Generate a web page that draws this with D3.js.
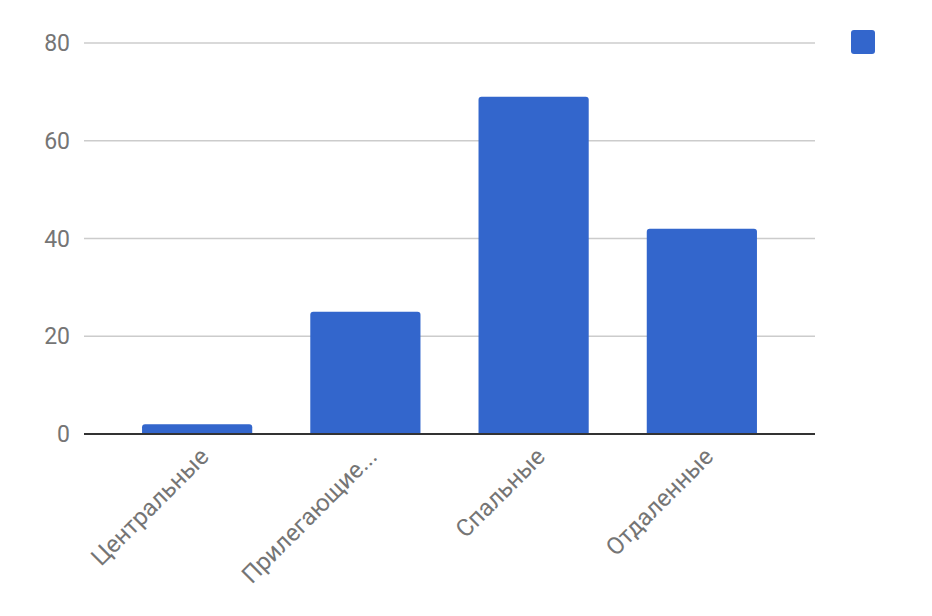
<!DOCTYPE html>
<html>
<head>
<meta charset="utf-8">
<script src="https://d3js.org/d3.v7.min.js"></script>
<style>
  body { margin: 0; background: #fff; }
  svg { font-family: Roboto, Arial, sans-serif; }
</style>
</head>
<body>
<div id="chart"></div>
<script>
const categories = ["Центральные", "Прилегающие...", "Спальные", "Отдаленные"];
const values = [2, 25, 69, 42];
const yTicks = [0, 20, 40, 60, 80];

let margin = {top: 43, right: 117, bottom: 182, left: 84},
    width = 932 - margin.left - margin.right,
    height = 616 - margin.top - margin.bottom;

const svg = d3.select("#chart")
    .append("svg")
    .attr("width", 932)
    .attr("height", 616)
    .append("g")
    .attr("transform", "translate(" + margin.left + "," + margin.top + ")");

var x = d3.scaleBand()
    .domain(categories)
    .range([0, width])
    .padding(0.345);

var y = d3.scaleLinear()
    .domain([0, 80])
    .range([height, 0]);

// gridlines
svg.append("g")
    .selectAll("line")
    .data(yTicks)
    .enter().append("line")
    .attr("x1", 0)
    .attr("x2", width)
    .attr("y1", d => y(d))
    .attr("y2", d => y(d))
    .attr("stroke", "#cccccc")
    .attr("stroke-width", 1.5);

// y labels
svg.append("g")
    .selectAll("text")
    .data(yTicks)
    .enter().append("text")
    .attr("x", -14)
    .attr("y", d => y(d))
    .attr("dy", "0.35em")
    .attr("text-anchor", "end")
    .attr("fill", "#757575")
    .style("font-size", "23px")
    .text(d => d);

// bars with rounded tops
const r = 3;
svg.append("g")
    .selectAll("path")
    .data(values)
    .enter().append("path")
    .attr("fill", "#3366cc")
    .attr("d", function(d, i) {
        const x0 = x(categories[i]), w = x.bandwidth();
        const yt = y(d), yb = y(0);
        return "M" + x0 + "," + yb +
            "V" + (yt + r) +
            "Q" + x0 + "," + yt + " " + (x0 + r) + "," + yt +
            "H" + (x0 + w - r) +
            "Q" + (x0 + w) + "," + yt + " " + (x0 + w) + "," + (yt + r) +
            "V" + yb + "Z";
    });

// baseline
svg.append("line")
    .attr("x1", 0)
    .attr("x2", width)
    .attr("y1", y(0))
    .attr("y2", y(0))
    .attr("stroke", "#333333")
    .attr("stroke-width", 2);

// x labels rotated
svg.append("g")
    .selectAll("text")
    .data(categories)
    .enter().append("text")
    .attr("transform", d => "translate(" + (x(d) + x.bandwidth() / 2 + 13) + "," + (height + 24) + ") rotate(-45)")
    .attr("text-anchor", "end")
    .attr("fill", "#757575")
    .style("font-size", "24px")
    .text(d => d);

// legend swatch (no label)
svg.append("rect")
    .attr("x", 851 - margin.left)
    .attr("y", 30 - margin.top)
    .attr("width", 24)
    .attr("height", 24)
    .attr("rx", 3)
    .attr("fill", "#3366cc");
</script>
</body>
</html>
